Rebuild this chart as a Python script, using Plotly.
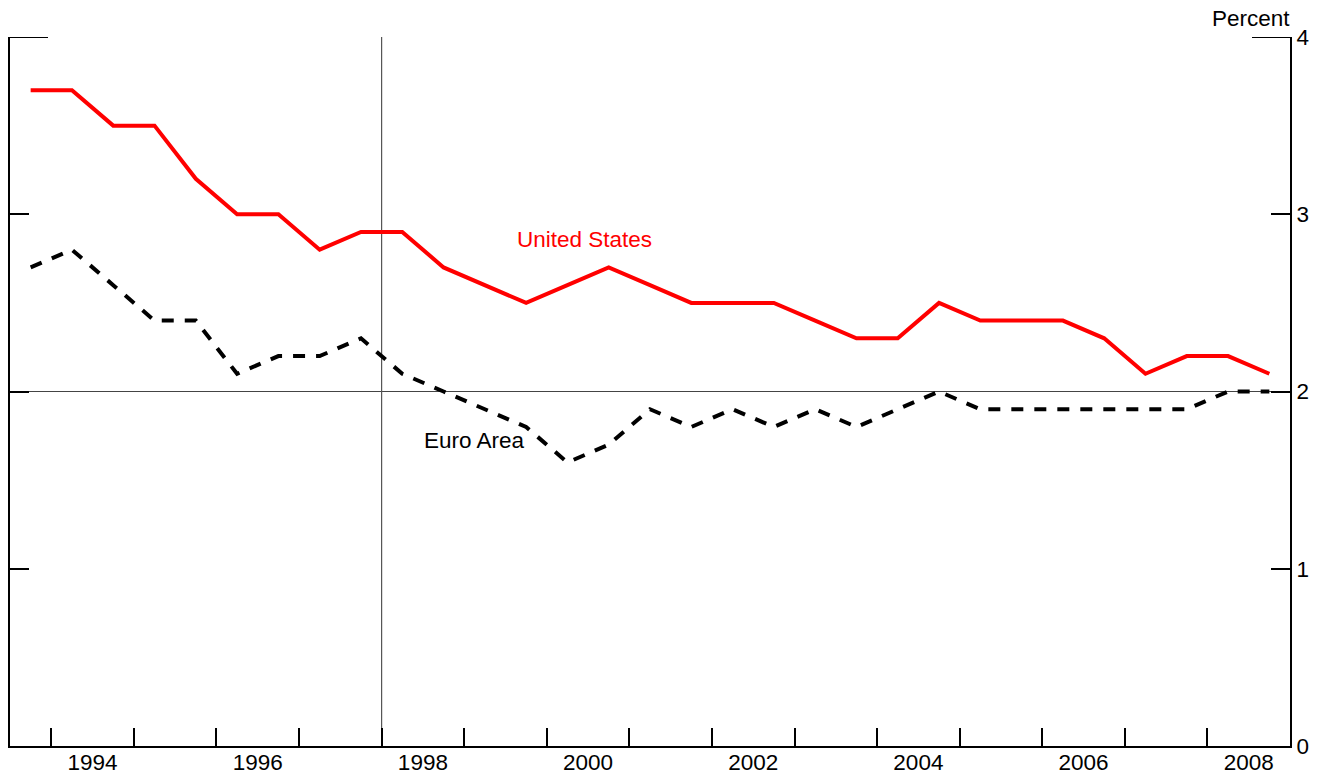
import plotly.graph_objects as go

# Semiannual observations (plotted at the middle of each half-year)
periods = [1993.75, 1994.25, 1994.75, 1995.25, 1995.75, 1996.25, 1996.75, 1997.25,
           1997.75, 1998.25, 1998.75, 1999.25, 1999.75, 2000.25, 2000.75, 2001.25,
           2001.75, 2002.25, 2002.75, 2003.25, 2003.75, 2004.25, 2004.75, 2005.25,
           2005.75, 2006.25, 2006.75, 2007.25, 2007.75, 2008.25, 2008.75]

united_states = [3.7, 3.7, 3.5, 3.5, 3.2, 3.0, 3.0, 2.8,
                 2.9, 2.9, 2.7, 2.6, 2.5, 2.6, 2.7, 2.6,
                 2.5, 2.5, 2.5, 2.4, 2.3, 2.3, 2.5, 2.4,
                 2.4, 2.4, 2.3, 2.1, 2.2, 2.2, 2.1]

euro_area = [2.7, 2.8, 2.6, 2.4, 2.4, 2.1, 2.2, 2.2,
             2.3, 2.1, 2.0, 1.9, 1.8, 1.6, 1.7, 1.9,
             1.8, 1.9, 1.8, 1.9, 1.8, 1.9, 2.0, 1.9,
             1.9, 1.9, 1.9, 1.9, 1.9, 2.0, 2.0]

year_ticks = [1994, 1995, 1996, 1997, 1998, 1999, 2000, 2001, 2002, 2003, 2004,
              2005, 2006, 2007, 2008]
label_positions = [1994.5, 1996.5, 1998.5, 2000.5, 2002.5, 2004.5, 2006.5, 2008.5]
label_text = ["1994", "1996", "1998", "2000", "2002", "2004", "2006", "2008"]
y_ticks = [0, 1, 2, 3, 4]

x_range = [1993.5, 2009.0]
y_range = [0, 4]

FONT = "Liberation Sans, Arial, sans-serif"
FS = 22.5

fig = go.Figure()

fig.add_trace(go.Scatter(x=periods, y=euro_area, mode="lines",
                         line=dict(color="black", width=4, dash="12px,11px"),
                         hoverinfo="skip", showlegend=False))
fig.add_trace(go.Scatter(x=periods, y=united_states, mode="lines",
                         line=dict(color="#ff0000", width=4),
                         hoverinfo="skip", showlegend=False))
# empty trace so the overlay axes (labels / left axis) are drawn
fig.add_trace(go.Scatter(x=[], y=[], xaxis="x2", yaxis="y2", showlegend=False))

fig.update_layout(
    width=1330, height=781, autosize=False,
    margin=dict(l=2, r=48, t=29, b=43),
    paper_bgcolor="white", plot_bgcolor="white",
    font=dict(family=FONT, size=FS, color="black"),
    showlegend=False,
    xaxis=dict(range=x_range, tickvals=year_ticks, ticks="inside", ticklen=18,
               tickwidth=2, tickcolor="black", showticklabels=False,
               showline=True, linewidth=2, linecolor="black",
               showgrid=False, zeroline=False, fixedrange=True),
    xaxis2=dict(range=x_range, overlaying="x", side="bottom", anchor="y",
                tickvals=label_positions, ticktext=label_text, ticks="",
                showline=False, showgrid=False, zeroline=False,
                tickfont=dict(family=FONT, size=FS, color="black")),
    yaxis=dict(range=y_range, side="right", tickvals=y_ticks, ticks="inside",
               ticklen=19, tickwidth=2, tickcolor="black",
               showline=True, linewidth=2, linecolor="black",
               showgrid=False, zeroline=False,
               tickfont=dict(family=FONT, size=FS, color="black")),
    yaxis2=dict(range=y_range, overlaying="y", side="left", anchor="x2",
                tickvals=y_ticks, ticks="inside", ticklen=19, tickwidth=2,
                tickcolor="black", showticklabels=False,
                showline=True, linewidth=2, linecolor="black",
                showgrid=False, zeroline=False),
)

# reference lines
fig.add_shape(type="line", xref="x", yref="y", x0=x_range[0], x1=x_range[1], y0=2, y1=2,
              line=dict(color="#444444", width=1.2), layer="below")
fig.add_shape(type="line", xref="x", yref="y", x0=1998, x1=1998, y0=y_range[0], y1=y_range[1],
              line=dict(color="#555555", width=1.2), layer="below")
# top end segments at 4
fig.add_shape(type="line", xref="x", yref="y", x0=x_range[0], x1=x_range[0] + 0.46, y0=4, y1=4,
              line=dict(color="black", width=2))
fig.add_shape(type="line", xref="x", yref="y", x0=x_range[1] - 0.46, x1=x_range[1], y0=4, y1=4,
              line=dict(color="black", width=2))

fig.add_annotation(x=2000.46, y=2.855, xref="x", yref="y", text="United States",
                   showarrow=False, font=dict(family=FONT, size=FS, color="#ff0000"))
fig.add_annotation(x=1999.12, y=1.726, xref="x", yref="y", text="Euro Area",
                   showarrow=False, font=dict(family=FONT, size=FS, color="black"))
fig.add_annotation(x=1, y=1, xref="paper", yref="paper", xanchor="right", yanchor="middle",
                   yshift=19, xshift=2, text="Percent", showarrow=False,
                   font=dict(family=FONT, size=FS, color="black"))

fig.write_html("out.html")
